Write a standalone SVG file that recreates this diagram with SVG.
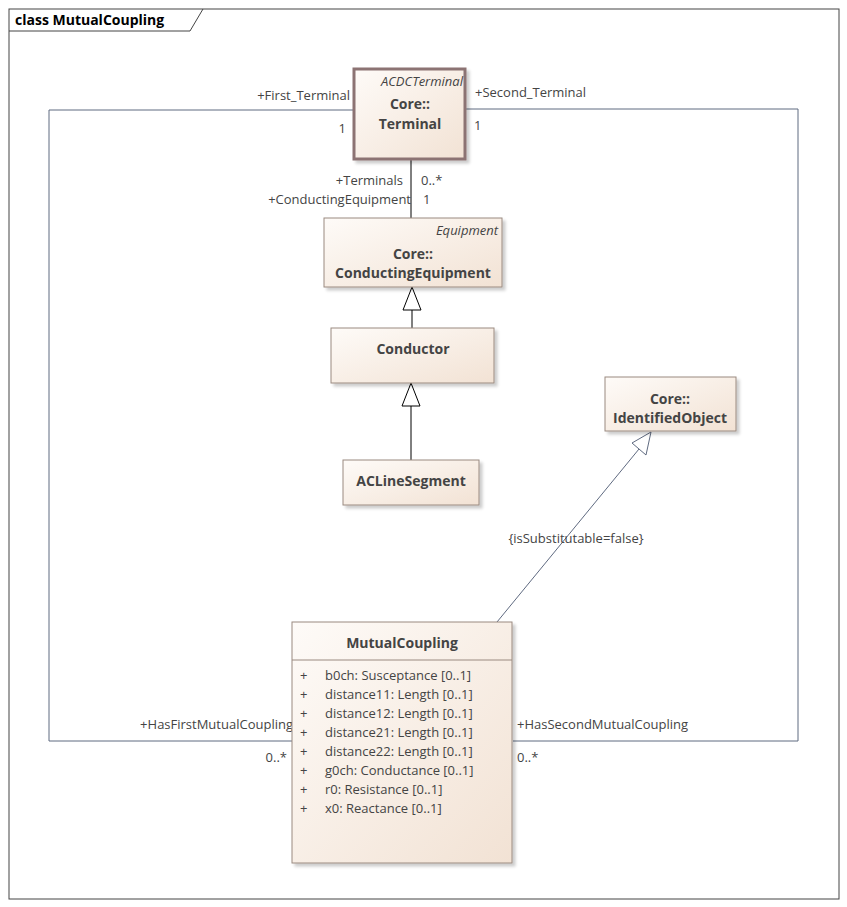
<svg xmlns="http://www.w3.org/2000/svg" width="847" height="907" viewBox="0 0 847 907">
<defs>
<linearGradient id="g" x1="0" y1="0" x2="1" y2="1"><stop offset="0" stop-color="#fefbf8"/><stop offset="1" stop-color="#f2e2d4"/></linearGradient>
<filter id="sh" x="-10%" y="-10%" width="130%" height="130%"><feDropShadow dx="3" dy="3" stdDeviation="1.5" flood-color="#000" flood-opacity="0.2"/></filter>
</defs>
<style>
text{font-family:"Open Sans","Liberation Sans",sans-serif;fill:#444;font-size:13px}
.b{font-weight:bold;font-size:14px;text-anchor:middle}
.i{font-style:italic;text-anchor:end}
.box{fill:url(#g);stroke:#9a8a80;stroke-width:1;filter:url(#sh)}
.ln{fill:none;stroke:#5f6a80;stroke-width:1}
.e{text-anchor:end}
</style>
<rect x="0" y="0" width="847" height="907" fill="#fff"/>
<rect x="9" y="9" width="830" height="890" fill="none" stroke="#444"/>
<path d="M9 31 H190 L203 9" fill="none" stroke="#444"/>
<text x="15" y="25" style="font-weight:bold;font-size:14px;fill:#000">class MutualCoupling</text>
<g id="connectors">
<path class="ln" d="M353 110 H49 V741 H292"/>
<path class="ln" d="M466 109 H798 V741 H513"/>
<path d="M411 160 V218" stroke="#000" fill="none"/>
<path d="M412 328 V310" stroke="#000" fill="none"/>
<path d="M412 287 L403 310 H421 Z" fill="#fff" stroke="#000"/>
<path d="M411 460 V406" stroke="#000" fill="none"/>
<path d="M411 383 L402 406 H420 Z" fill="#fff" stroke="#000"/>
<path class="ln" d="M497 622 L639 449"/>
<path d="M651 432 L632 443 L646 455 Z" fill="#fff" stroke="#5f6a80"/>
<text x="350" y="100" class="e">+First_Terminal</text>
<text x="346" y="133" class="e">1</text>
<text x="475" y="97">+Second_Terminal</text>
<text x="474" y="130">1</text>
<text x="403" y="185" class="e">+Terminals</text>
<text x="421" y="185">0..*</text>
<text x="411" y="204" class="e">+ConductingEquipment</text>
<text x="423" y="204">1</text>
<text x="576" y="543" style="text-anchor:middle">{isSubstitutable=false}</text>
<text x="293" y="729" class="e">+HasFirstMutualCoupling</text>
<text x="287" y="762" class="e">0..*</text>
<text x="517" y="729">+HasSecondMutualCoupling</text>
<text x="517" y="762">0..*</text>
</g>
<g id="Terminal">
<rect x="354" y="69" width="111" height="90" class="box" stroke="#8c7373" style="stroke:#8c7373;stroke-width:3"/>
<text x="463" y="86" class="i">ACDCTerminal</text>
<text x="410" y="109" class="b">Core::</text>
<text x="410" y="129" class="b">Terminal</text>
</g>
<g id="ConductingEquipment">
<rect x="324" y="218" width="178" height="69" class="box"/>
<text x="498" y="235" class="i">Equipment</text>
<text x="413" y="259" class="b">Core::</text>
<text x="413" y="278" class="b">ConductingEquipment</text>
</g>
<g id="Conductor">
<rect x="331" y="328" width="163" height="55" class="box"/>
<text x="413" y="354" class="b">Conductor</text>
</g>
<g id="ACLineSegment">
<rect x="343" y="460" width="136" height="45" class="box"/>
<text x="411" y="486" class="b">ACLineSegment</text>
</g>
<g id="IdentifiedObject">
<rect x="605" y="377" width="131" height="54" class="box"/>
<text x="670" y="404" class="b">Core::</text>
<text x="670" y="423" class="b">IdentifiedObject</text>
</g>
<g id="MutualCoupling">
<rect x="292" y="622" width="220" height="241" class="box"/>
<path d="M292 660 H512" stroke="#9a8a80"/>
<text x="402" y="648" class="b">MutualCoupling</text>
<g>
<text x="300" y="680">+</text><text x="325" y="680">b0ch: Susceptance [0..1]</text>
<text x="300" y="699">+</text><text x="325" y="699">distance11: Length [0..1]</text>
<text x="300" y="718">+</text><text x="325" y="718">distance12: Length [0..1]</text>
<text x="300" y="737">+</text><text x="325" y="737">distance21: Length [0..1]</text>
<text x="300" y="756">+</text><text x="325" y="756">distance22: Length [0..1]</text>
<text x="300" y="775">+</text><text x="325" y="775">g0ch: Conductance [0..1]</text>
<text x="300" y="794">+</text><text x="325" y="794">r0: Resistance [0..1]</text>
<text x="300" y="813">+</text><text x="325" y="813">x0: Reactance [0..1]</text>
</g>
</g>
</svg>
